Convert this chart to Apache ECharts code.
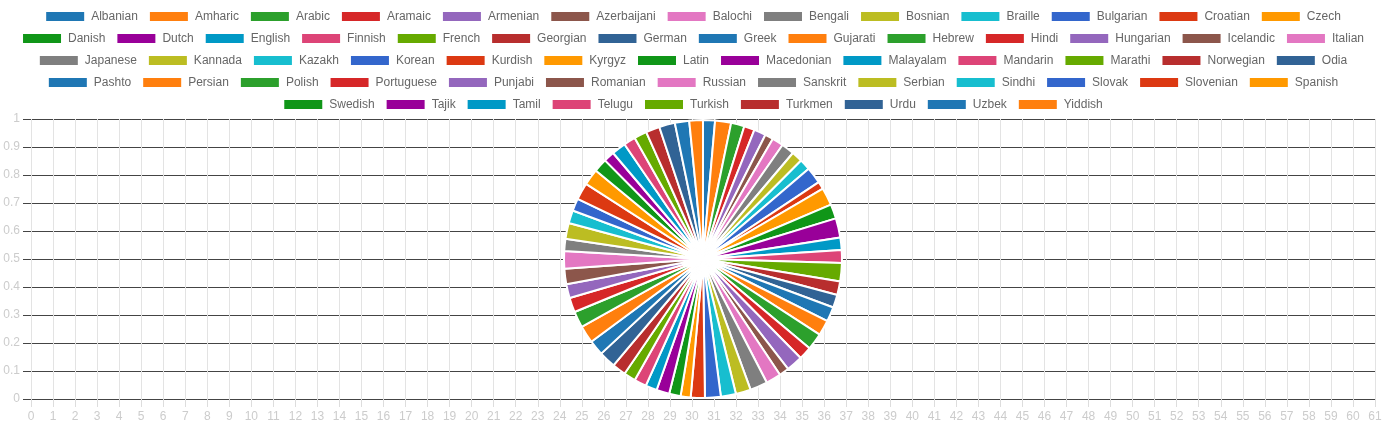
<!DOCTYPE html>
<html>
<head>
<meta charset="utf-8">
<script src="https://cdn.jsdelivr.net/npm/echarts@6/dist/echarts.min.js"></script>
<style>
html,body{margin:0;padding:0;background:#fff;}
#chart{width:1385px;height:428px;}
</style>
</head>
<body>
<div id="chart"></div>
<script>
const languages = ['Albanian','Amharic','Arabic','Aramaic','Armenian','Azerbaijani','Balochi','Bengali','Bosnian','Braille','Bulgarian','Croatian','Czech',
  'Danish','Dutch','English','Finnish','French','Georgian','German','Greek','Gujarati','Hebrew','Hindi','Hungarian','Icelandic','Italian',
  'Japanese','Kannada','Kazakh','Korean','Kurdish','Kyrgyz','Latin','Macedonian','Malayalam','Mandarin','Marathi','Norwegian','Odia',
  'Pashto','Persian','Polish','Portuguese','Punjabi','Romanian','Russian','Sanskrit','Serbian','Sindhi','Slovak','Slovenian','Spanish',
  'Swedish','Tajik','Tamil','Telugu','Turkish','Turkmen','Urdu','Uzbek','Yiddish'];
const values = [5.0,6.7,5.6,4.4,5.0,3.5,4.7,5.4,4.6,4.6,6.9,3.2,7.4,
  6.0,8.1,5.2,5.4,7.6,5.7,5.4,6.1,6.5,7.0,5.4,6.9,4.1,6.3,
  7.3,6.3,6.3,6.6,5.9,4.2,4.8,5.4,4.8,5.1,5.0,5.7,7.0,
  6.4,7.3,6.8,6.1,5.8,6.5,7.3,5.1,6.6,5.4,5.2,7.1,6.8,
  5.7,4.5,5.9,5.0,5.3,5.8,6.6,6.0,5.7];
// number of legend entries on each legend row
const legendRows = [13, 14, 13, 13, 9];
const xMin = 0, xMax = 61;
const yMin = 0, yMax = 1, yStep = 0.1;

const palette = ['#1f77b4','#ff7f0e','#2ca02c','#d62728','#9467bd','#8c564b','#e377c2','#7f7f7f','#bcbd22','#17becf',
  '#3366cc','#dc3912','#ff9900','#109618','#990099','#0099c6','#dd4477','#66aa00','#b82e2e','#316395'];

const legends = [];
let idx = 0;
legendRows.forEach((n, r) => {
  legends.push({
    data: languages.slice(idx, idx + n),
    left: 'center',
    top: 10 + r * 22,
    padding: 0,
    orient: 'horizontal',
    icon: 'rect',
    itemWidth: 40,
    itemHeight: 11,
    itemGap: 10,
    textStyle: { color: '#666', fontSize: 12, fontFamily: '"Liberation Sans", Arial, sans-serif', lineHeight: 12, padding: [0,0,0,1] }
  });
  idx += n;
});

const chart = echarts.init(document.getElementById('chart'), null, { renderer: 'canvas' });
chart.setOption({
  animation: false,
  color: palette,
  legend: legends,
  grid: { left: 31, right: 10, top: 119, bottom: 29, containLabel: false },
  xAxis: {
    type: 'value', min: xMin, max: xMax, interval: 1,
    axisLine: { show: false },
    axisTick: { show: true, length: 8, lineStyle: { color: '#dddddd' } },
    axisLabel: { color: '#cccccc', fontSize: 12, margin: 12, fontFamily: '"Liberation Sans", Arial, sans-serif' },
    splitLine: { show: true, lineStyle: { color: '#e3e3e3', width: 1 } }
  },
  yAxis: {
    type: 'value', min: yMin, max: yMax, interval: yStep,
    axisLine: { show: false },
    axisTick: { show: true, length: 8, lineStyle: { color: '#444444' } },
    axisLabel: { color: '#cccccc', fontSize: 12, margin: 11, fontFamily: '"Liberation Sans", Arial, sans-serif' },
    splitLine: { show: true, lineStyle: { color: '#444444', width: 1 } }
  },
  series: [{
    type: 'pie',
    center: [703, 259],
    radius: [0, 139],
    startAngle: 90,
    clockwise: true,
    label: { show: false },
    labelLine: { show: false },
    itemStyle: { borderColor: '#ffffff', borderWidth: 2 },
    data: languages.map((name, i) => ({ name: name, value: values[i] }))
  }]
});
</script>
</body>
</html>
